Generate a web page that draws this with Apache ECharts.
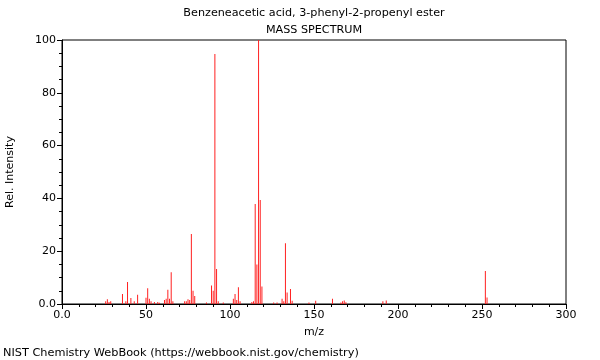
<!DOCTYPE html>
<html>
<head>
<meta charset="utf-8">
<script src="https://cdn.jsdelivr.net/npm/echarts@6/dist/echarts.min.js"></script>
<style>html,body{margin:0;padding:0;background:#fff}#c{width:600px;height:360px}</style>
</head>
<body>
<div id="c"></div>
<script>
const titleLine1 = "Benzeneacetic acid, 3-phenyl-2-propenyl ester";
const titleLine2 = "MASS SPECTRUM";
const footer = "NIST Chemistry WebBook (https://webbook.nist.gov/chemistry)";
const xName = "m/z";
const yName = "Rel. Intensity";

const mz = [26,27,28,29,36,38,39,41,43,45,50,51,52,53,55,57,58,61,62,63,64,65,66,73,74,75,76,77,78,79,86,89,90,91,92,93,96,102,103,104,105,106,113,114,115,116,117,118,119,126,128,131,132,133,134,136,137,147,151,161,166,167,168,169,191,193,252,253];
const intensity = [1.0,1.8,0.8,1.0,3.8,1.0,8.3,2.3,1.0,3.5,2.4,6.0,2.0,1.0,0.8,0.8,0.5,1.5,2.0,5.4,2.0,12.0,1.0,1.0,1.0,1.8,1.5,26.5,5.0,3.0,0.6,7.0,5.0,94.7,13.3,1.0,0.6,2.0,3.8,1.5,6.3,1.0,0.8,1.0,37.9,15.0,100,39.4,6.6,0.6,0.6,2.0,1.0,23.0,4.4,5.7,1.2,0.6,1.2,2.0,0.6,1.0,1.3,0.7,1.0,1.3,12.5,2.5];

const chart = echarts.init(document.getElementById('c'), null, {renderer: 'canvas'});
const fontFamily = 'DejaVu Sans';
chart.setOption({
  animation: false,
  textStyle: {fontFamily: fontFamily},
  grid: {left: 62, right: 34, top: 40, bottom: 56, containLabel: false, outerBoundsMode: 'none', show: true, borderColor: '#000', borderWidth: 1, backgroundColor: 'transparent'},
  xAxis: {
    type: 'value', min: 0, max: 300, interval: 50,
    name: xName, nameLocation: 'middle', nameGap: 23,
    nameTextStyle: {color: '#000', fontSize: 11, fontFamily: fontFamily},
    axisLine: {show: true, lineStyle: {color: '#000', width: 1}},
    axisTick: {show: true, inside: false, length: 5, lineStyle: {color: '#000'}},
    minorTick: {show: true, splitNumber: 5, length: 3, lineStyle: {color: '#000'}},
    splitLine: {show: false},
    axisLabel: {color: '#000', fontSize: 11, fontFamily: fontFamily, margin: 6, formatter: v => v === 0 ? '0.0' : String(v)}
  },
  yAxis: {
    type: 'value', min: 0, max: 100, interval: 20,
    name: yName, nameLocation: 'middle', nameGap: 46, nameRotate: 90,
    nameTextStyle: {color: '#000', fontSize: 11, fontFamily: fontFamily},
    axisLine: {show: true, lineStyle: {color: '#000', width: 1}},
    axisTick: {show: true, inside: false, length: 5, lineStyle: {color: '#000'}},
    minorTick: {show: true, splitNumber: 4, length: 3, lineStyle: {color: '#000'}},
    splitLine: {show: false},
    axisLabel: {color: '#000', fontSize: 11, fontFamily: fontFamily, margin: 6, formatter: v => v === 0 ? '0.0' : String(v)}
  },
  series: [{
    type: 'bar',
    data: mz.map((m, i) => [m, intensity[i]]),
    barWidth: 1,
    itemStyle: {color: '#ff2020'},
    silent: true
  }],
  graphic: [
    {id: 't1', type: 'text', x: 314, y: 13, style: {text: titleLine1, fill: '#000', font: '11.2px "DejaVu Sans"', align: 'center', verticalAlign: 'middle'}},
    {id: 't2', type: 'text', x: 314, y: 30, style: {text: titleLine2, fill: '#000', font: '11.2px "DejaVu Sans"', align: 'center', verticalAlign: 'middle'}},
    {id: 'f', type: 'text', x: 3, y: 353, style: {text: footer, fill: '#000', font: '11.3px "DejaVu Sans"', align: 'left', verticalAlign: 'middle'}}
  ]
});
</script>
</body>
</html>
